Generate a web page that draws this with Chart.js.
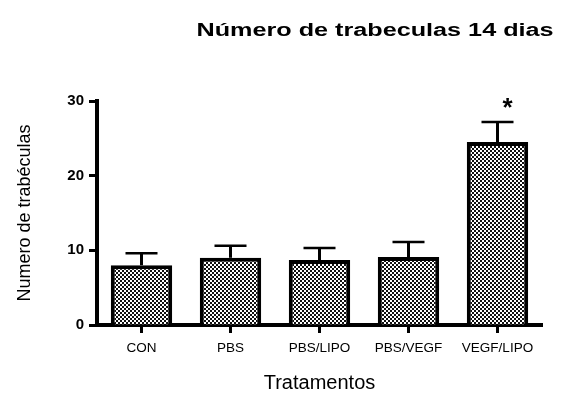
<!DOCTYPE html>
<html><head><meta charset="utf-8">
<script src="https://cdn.jsdelivr.net/npm/chart.js@4/dist/chart.umd.min.js"></script>
<style>html,body{margin:0;padding:0;background:#fff}#wrap{width:564px;height:402px}</style>
</head><body><div id="wrap"><canvas id="c" width="564" height="402"></canvas></div>
<script>
const categories = ['CON', 'PBS', 'PBS/LIPO', 'PBS/VEGF', 'VEGF/LIPO'];
const means = [8.0, 9.0, 8.7, 9.1, 24.5];
const upperErrors = [1.6, 1.6, 1.6, 2.0, 2.7];
const significance = ['', '', '', '', '*'];
const yTicks = [0, 10, 20, 30];
const chartTitle = 'Número de trabeculas 14 dias';
const xTitle = 'Tratamentos';
const yTitle = 'Numero de trabéculas';

const canvas = document.getElementById('c');
const ctx = canvas.getContext('2d');
const pc = document.createElement('canvas');
pc.width = 4; pc.height = 4;
const p = pc.getContext('2d');
p.fillStyle = '#fff'; p.fillRect(0, 0, 4, 4);
p.fillStyle = '#111'; p.fillRect(0, 0, 2, 2); p.fillRect(2, 2, 2, 2);
const pattern = ctx.createPattern(pc, 'repeat');

const extras = {
  id: 'extras',
  afterDatasetsDraw(chart) {
    const c = chart.ctx, xs = chart.scales.x, ys = chart.scales.y;
    c.save();
    c.strokeStyle = '#000';
    means.forEach((m, i) => {
      const x = xs.getPixelForValue(i);
      const yb = ys.getPixelForValue(m);
      const yt = ys.getPixelForValue(m + upperErrors[i]);
      c.lineWidth = 3;
      c.beginPath(); c.moveTo(x, yb); c.lineTo(x, yt); c.stroke();
      c.lineWidth = 2.5;
      c.beginPath(); c.moveTo(x - 16, yt); c.lineTo(x + 16, yt); c.stroke();
      if (significance[i]) {
        c.fillStyle = '#000';
        c.font = 'bold 26px "Liberation Sans", Arial, sans-serif';
        c.textAlign = 'center';
        c.textBaseline = 'alphabetic';
        c.fillText(significance[i], x + 10, yt - 6);
      }
    });
    c.restore();
  },
  afterDraw(chart) {
    const c = chart.ctx;
    c.save();
    c.fillStyle = '#000';
    c.font = 'bold 18px "Liberation Sans", Arial, sans-serif';
    c.textAlign = 'center';
    c.textBaseline = 'middle';
    c.translate(375, 31);
    c.scale(1.4, 1);
    c.fillText(chartTitle, 0, 0);
    c.restore();
  }
};

new Chart(canvas, {
  type: 'bar',
  data: {
    labels: categories,
    datasets: [{
      data: means,
      backgroundColor: pattern,
      borderColor: '#000',
      borderWidth: 4,
      borderSkipped: 'bottom',
      barPercentage: 0.69,
      categoryPercentage: 1.0
    }]
  },
  options: {
    responsive: false,
    animation: false,
    devicePixelRatio: 1,
    layout: { padding: { top: 101, right: 22, left: 0, bottom: 0 } },
    plugins: { legend: { display: false }, tooltip: { enabled: false }, title: { display: false } },
    scales: {
      x: {
        offset: true,
        grid: { display: true, drawOnChartArea: false, offset: false, drawTicks: true, tickLength: 8, tickWidth: 3, tickColor: '#000' },
        border: { display: true, width: 4, color: '#000' },
        ticks: { color: '#000', font: { family: '"Liberation Sans", Arial, sans-serif', size: 13.5 }, padding: 7, maxRotation: 0, autoSkip: false },
        title: { display: true, text: xTitle, color: '#000', font: { family: '"Liberation Sans", Arial, sans-serif', size: 20 }, padding: { top: 0, bottom: 7 } },
        afterFit(s) { s.height = 77; }
      },
      y: {
        min: 0, max: 30,
        afterBuildTicks(s) { s.ticks = yTicks.map(v => ({ value: v })); },
        grid: { display: true, drawOnChartArea: false, drawTicks: true, tickLength: 8, tickWidth: 3, tickColor: '#000' },
        border: { display: true, width: 4, color: '#000' },
        ticks: { color: '#000', font: { family: '"Liberation Sans", Arial, sans-serif', size: 15, weight: 'bold' }, padding: 5 },
        title: { display: true, text: yTitle, color: '#000', font: { family: '"Liberation Sans", Arial, sans-serif', size: 18 }, padding: { top: 14, bottom: 0 } },
        afterFit(s) { s.width = 97; }
      }
    }
  },
  plugins: [extras]
});
</script>
</body></html>
